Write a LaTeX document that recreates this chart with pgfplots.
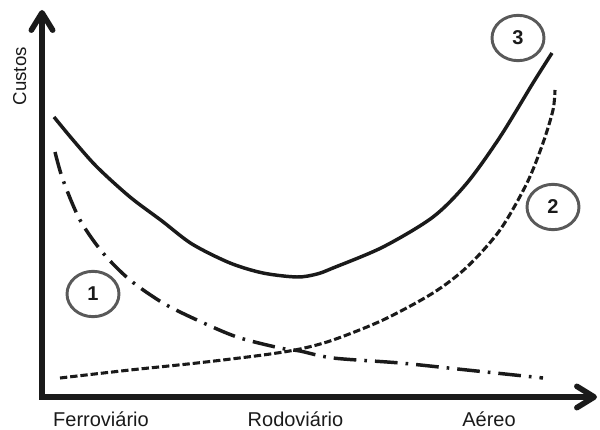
\documentclass[border=0pt]{standalone}
\usepackage{fontspec}
\setmainfont{Liberation Sans}
\usepackage{pgfplots}
\pgfplotsset{compat=1.18}
\usetikzlibrary{arrows.meta,shapes.geometric}
\definecolor{ink}{HTML}{1A1A1A}
\definecolor{ringgray}{HTML}{595959}

\begin{document}
\begin{tikzpicture}
% 600x429 px at 0.75pt per px, origin at the axes corner
\useasboundingbox (-31.5pt,-24pt) rectangle (418.5pt,297.75pt);
\begin{axis}[
  x=0.75pt, y=0.75pt,
  xmin=0, xmax=555, ymin=0, ymax=387,
  axis lines=left,
  axis line style={line width=4.2pt, color=ink,
    -{Straight Barb[length=13pt,width=16pt,round]}, shorten <=-2.1pt},
  major tick length=0pt,
  xtick={253.5,447}, xticklabels={Rodoviário,Aéreo},
  extra x ticks={59}, extra x tick labels={Ferroviário},
  xticklabel style={anchor=base, yshift=-21.75pt, font=\fontsize{15}{18}\selectfont, text=ink},
  ytick=\empty,
  ylabel={\fontsize{14}{17}\selectfont Custos},
  ylabel style={at={(axis description cs:-0.04,0.829)}, anchor=center, text=ink},
  clip=false,
]
% 3: custo total
\addplot[ink, line width=2.6pt, smooth] coordinates {
  (12,280) (31,257) (55,230) (88,200) (120,176) (150,153) (188,134)
  (221,124) (255,120) (275,123) (291,129) (341,150) (391,180)
  (425,214) (458,260) (491,314) (510,344)};
% 1
\addplot[ink, line width=2.6pt, smooth, dash pattern=on 17pt off 6pt on 2pt off 6pt] coordinates {
  (13,245) (21,217) (38,177) (61,144) (88,117) (121,94) (155,77)
  (195,60) (238,49) (258,46) (291,39) (358,34) (425,27) (501,19)};
% 2
\addplot[ink, line width=2.3pt, smooth, dash pattern=on 5.5pt off 2.2pt] coordinates {
  (18,19) (88,27) (155,34) (221,42) (258,48) (291,57) (341,77)
  (391,104) (425,130) (458,167) (485,214) (501,254) (511,287) (513,307)};

\tikzset{ring/.style={draw=ringgray, line width=2.2pt, ellipse, inner sep=0pt,
  minimum width=39pt, minimum height=34pt, text=ink,
  font=\bfseries\fontsize{15}{18}\selectfont}}
\node[ring] at (axis cs:51,103) {1};
\node[ring] at (axis cs:511,190) {2};
\node[ring] at (axis cs:476,359) {3};
\end{axis}
\end{tikzpicture}
\end{document}
